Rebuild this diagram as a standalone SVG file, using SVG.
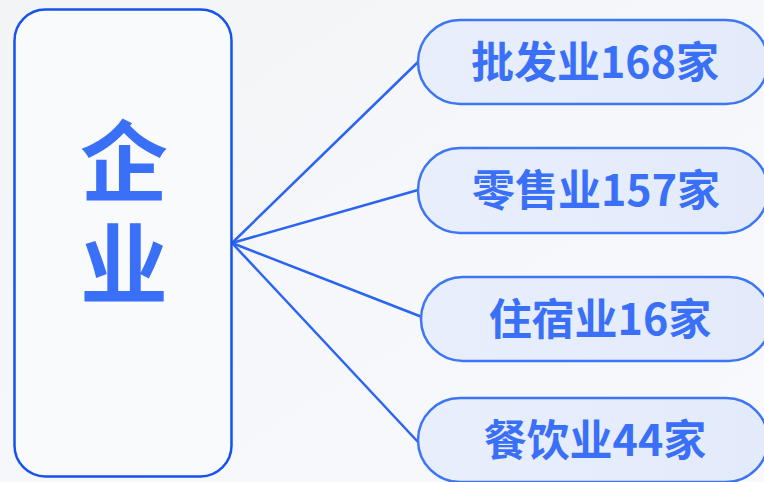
<svg xmlns="http://www.w3.org/2000/svg" width="764" height="482" viewBox="0 0 764 482">
<defs>
<linearGradient id="bg" x1="0" y1="0" x2="1" y2="1">
<stop offset="0" stop-color="#f3f4f6"/>
<stop offset="0.5" stop-color="#f5f7fa"/>
<stop offset="1" stop-color="#f7f9fc"/>
</linearGradient>
<linearGradient id="pill" x1="0" y1="0" x2="1" y2="0">
<stop offset="0" stop-color="#e8eefc"/>
<stop offset="1" stop-color="#e3ebfb"/>
</linearGradient>
<style>
.pill{fill:url(#pill);stroke:#3d76f5;stroke-width:2.5}
.lbl{font-family:"Noto Sans CJK SC","Microsoft YaHei",sans-serif;font-weight:700;font-size:43px;fill:#3a70f7;text-anchor:middle}
.big{font-family:"Noto Sans CJK SC","Microsoft YaHei",sans-serif;font-weight:700;font-size:88px;fill:#3a70f7;writing-mode:vertical-rl;letter-spacing:15px}
.conn{stroke:#2b64f2;stroke-width:2.5;fill:none}
</style>
</defs>
<rect x="0" y="0" width="764" height="482" fill="url(#bg)"/>
<g id="connectors">
<line class="conn" x1="232" y1="243" x2="418" y2="62"/>
<line class="conn" x1="232" y1="243" x2="418" y2="190"/>
<line class="conn" x1="232" y1="243" x2="422" y2="317"/>
<line class="conn" x1="232" y1="243" x2="418" y2="442"/>
</g>
<g id="node-qiye">
<rect x="14.5" y="9.5" width="217" height="467" rx="31" fill="#f9fafc" stroke="#1652f0" stroke-width="2.5"/>
<text class="big" x="124" y="117">企业</text>
</g>
<g id="node-pifa">
<rect class="pill" x="418" y="20" width="350" height="84" rx="42"/>
<text class="lbl" x="595" y="78">批发业168家</text>
</g>
<g id="node-lingshou">
<rect class="pill" x="418" y="148" width="350" height="85" rx="42"/>
<text class="lbl" x="596" y="206">零售业157家</text>
</g>
<g id="node-zhusu">
<rect class="pill" x="421" y="277" width="350" height="84" rx="42"/>
<text class="lbl" x="600" y="335">住宿业16家</text>
</g>
<g id="node-canyin">
<rect class="pill" x="418" y="398" width="350" height="84" rx="42"/>
<text class="lbl" x="595" y="456">餐饮业44家</text>
</g>
</svg>
